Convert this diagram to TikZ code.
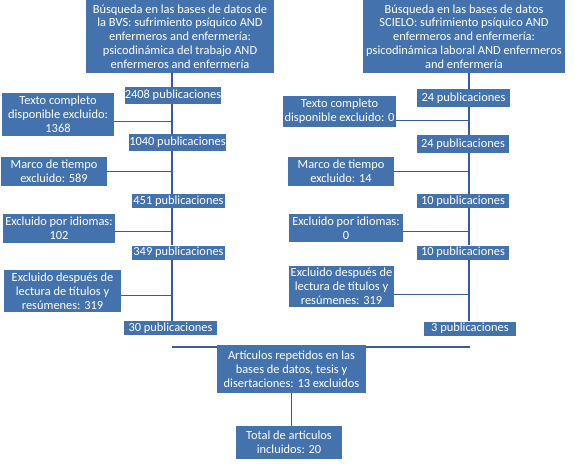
\documentclass[tikz,border=0pt]{standalone}
\usepackage{fontspec}
\setmainfont{Carlito}
\usepackage{tikz}
\usepackage{xcolor}
\definecolor{boxblue}{HTML}{4472AD}
\definecolor{lineblue}{HTML}{3B5B98}

\begin{document}
\begin{tikzpicture}[x=0.75pt,y=-0.75pt,
  box/.style={fill=boxblue,text=white,align=center,inner sep=0pt,
    font=\fontsize{9.3}{10.4}\selectfont},
  link/.style={draw=lineblue,line width=0.9pt}]
  \useasboundingbox (0,0) rectangle (575,472);
  % left search: BVS
  \coordinate (ltop) at (172,73);
  \node[box,minimum width=141pt,minimum height=54.75pt] (bvs) at (180,36.5)
    {Búsqueda en las bases de datos de\\la BVS: sufrimiento psíquico AND\\enfermeros and enfermería:\\psicodinámica del trabajo AND\\enfermeros and enfermería};
  \node[box,minimum width=72pt,minimum height=12.75pt] (lp1) at (173,95.5) {2408 publicaciones};
  \node[box,minimum width=71.25pt,minimum height=12.75pt] (lp2) at (177.5,142.5) {1040 publicaciones};
  \node[box,minimum width=69.75pt,minimum height=10.5pt] (lp3) at (178.5,201) {451 publicaciones};
  \node[box,minimum width=69.75pt,minimum height=10.5pt] (lp4) at (178.5,252.5) {349 publicaciones};
  \node[box,minimum width=69.75pt,minimum height=10.5pt] (lp5) at (170.5,328) {30 publicaciones};
  \node[box,minimum width=84pt,minimum height=32.25pt] (le1) at (58,114.5) {Texto completo\\disponible excluido:\\1368};
  \node[box,minimum width=79.5pt,minimum height=21.75pt] (le2) at (54,171.5) {Marco de tiempo\\excluido: 589};
  \node[box,minimum width=84pt,minimum height=21.75pt] (le3) at (59,228.5) {Excluido por idiomas:\\102};
  \node[box,minimum width=87.75pt,minimum height=31.5pt] (le4) at (62.5,291) {Excluido después de\\lectura de títulos y\\resúmenes: 319};
  \draw[link] (ltop) -- (ltop |- lp1.north);
  \draw[link] (ltop |- lp1.south) -- (ltop |- lp2.north);
  \draw[link] (ltop |- lp2.south) -- (ltop |- lp3.north);
  \draw[link] (ltop |- lp3.south) -- (ltop |- lp4.north);
  \draw[link] (ltop |- lp4.south) -- (ltop |- lp5.north);
  \draw[link] ([yshift=-5pt]le1.east) -- ([yshift=-5pt]le1.east -| ltop);
  \draw[link] (le2.east) -- (le2.east -| ltop);
  \draw[link] ([yshift=-2.5pt]le3.east) -- ([yshift=-2.5pt]le3.east -| ltop);
  \draw[link] ([yshift=-3.5pt]le4.east) -- ([yshift=-3.5pt]le4.east -| ltop);
  % right search: SCIELO
  \coordinate (rtop) at (469,73);
  \node[box,minimum width=151.5pt,minimum height=54.75pt] (sci) at (464,36.5)
    {Búsqueda en las bases de datos\\SCIELO: sufrimiento psíquico AND\\enfermeros and enfermería:\\psicodinámica laboral AND enfermeros\\and enfermería};
  \node[box,minimum width=69.75pt,minimum height=13.5pt] (rp1) at (463.5,98) {24 publicaciones};
  \node[box,minimum width=69pt,minimum height=13.5pt] (rp2) at (463,144) {24 publicaciones};
  \node[box,minimum width=69pt,minimum height=10.5pt] (rp3) at (463,201) {10 publicaciones};
  \node[box,minimum width=69pt,minimum height=10.5pt] (rp4) at (463,252.5) {10 publicaciones};
  \node[box,minimum width=69pt,minimum height=10.5pt] (rp5) at (470,328.5) {3 publicaciones};
  \node[box,minimum width=84.75pt,minimum height=23.25pt] (re1) at (339.5,111.5) {Texto completo\\disponible excluido: 0};
  \node[box,minimum width=79.5pt,minimum height=21.75pt] (re2) at (341,171.5) {Marco de tiempo\\excluido: 14};
  \node[box,minimum width=85.5pt,minimum height=21pt] (re3) at (346,228) {Excluido por idiomas:\\0};
  \node[box,minimum width=78.75pt,minimum height=30.75pt] (re4) at (341.5,286.5) {Excluido después de\\lectura de títulos y\\resúmenes: 319};
  \draw[link] (rtop) -- (rtop |- rp1.north);
  \draw[link] (rtop |- rp1.south) -- (rtop |- rp2.north);
  \draw[link] (rtop |- rp2.south) -- (rtop |- rp3.north);
  \draw[link] (rtop |- rp3.south) -- (rtop |- rp4.north);
  \draw[link] (rtop |- rp4.south) -- (rtop |- rp5.north);
  \draw[link] ([yshift=-7pt]re1.east) -- ([yshift=-7pt]re1.east -| rtop);
  \draw[link] (re2.east) -- (re2.east -| rtop);
  \draw[link] ([yshift=-2.5pt]re3.east) -- ([yshift=-2.5pt]re3.east -| rtop);
  \draw[link] ([yshift=-6pt]re4.east) -- ([yshift=-6pt]re4.east -| rtop);
  % merge and final count
  \coordinate (jl) at (172,347);
  \coordinate (jr) at (470,347);
  \draw[link] (jl) -- (jr);
  \node[box,minimum width=111.75pt,minimum height=36pt] (rep) at (291.5,369) {Artículos repetidos en las\\bases de datos, tesis y\\disertaciones: 13 excluidos};
  \node[box,minimum width=79.5pt,minimum height=24.75pt] (tot) at (289,442.5) {Total de artículos\\incluidos: 20};
  \draw[link] (rep.south) -- (rep.south |- tot.north);
\end{tikzpicture}
\end{document}
